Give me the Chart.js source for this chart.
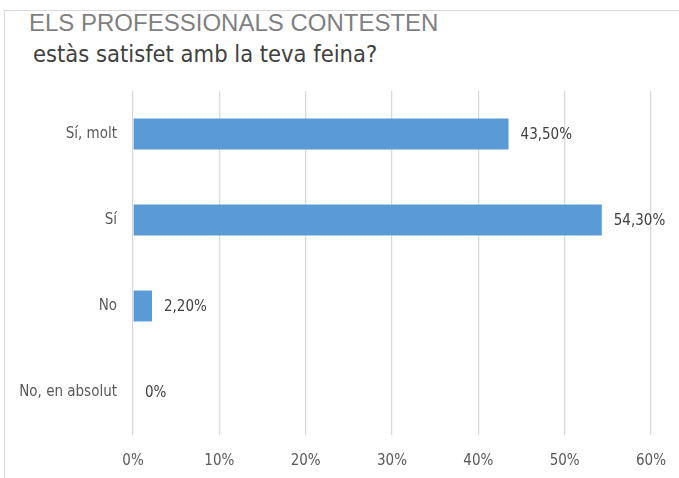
<!DOCTYPE html>
<html lang="ca">
<head>
  <meta charset="UTF-8">
  <title>Els professionals contesten</title>
  <style>
    body {
      margin: 0;
      background-color: #ffffff;
      font-family: "DejaVu Sans Condensed", sans-serif;
    }

    .frame {
      position: absolute;
      left: 4px;
      top: 10px;
      width: 675px;
      height: 468px;
      border-top: 1px solid #d9d9d9;
      border-left: 1px solid #d9d9d9;
    }

    .titol {
      position: absolute;
      left: 29px;
      top: 9px;
      font-family: "Liberation Sans", Arial, sans-serif;
      font-size: 24px;
      color: #7f7f7f;
      white-space: nowrap;
    }

    .pregunta {
      position: absolute;
      left: 33px;
      top: 40px;
      font-size: 23.5px;
      color: #404040;
      white-space: nowrap;
    }

    .chartBox {
      position: absolute;
      left: 0;
      top: 0;
      width: 679px;
      height: 478px;
    }
  </style>
</head>
<body>
<script src="https://cdn.jsdelivr.net/npm/chart.js"></script>

<div class="frame"></div>
<div class="titol">ELS PROFESSIONALS CONTESTEN</div>
<div class="pregunta">estàs satisfet amb la teva feina?</div>

<div class="chartBox">
  <canvas id="barChart"></canvas>
</div>

<script>
  // respostes i percentatges
  const respostes = ['Sí, molt', 'Sí', 'No', 'No, en absolut'];
  const percentatges = [43.5, 54.3, 2.2, 0];
  const ticksX = [0, 10, 20, 30, 40, 50, 60];

  const fontText = '"DejaVu Sans Condensed", sans-serif';

  function formatPct(v) {
    if (v === 0) return '0%';
    return v.toFixed(2).replace('.', ',') + '%';
  }

  // etiquetes al final de cada barra
  const etiquetes = {
    id: 'etiquetes',
    afterDatasetsDraw(chart) {
      const ctx = chart.ctx;
      const meta = chart.getDatasetMeta(0);
      ctx.save();
      ctx.font = '15px ' + fontText;
      ctx.fillStyle = '#404040';
      ctx.textAlign = 'left';
      ctx.textBaseline = 'middle';
      meta.data.forEach(function (bar, i) {
        ctx.fillText(formatPct(percentatges[i]), bar.x + 12, bar.y + 1);
      });
      ctx.restore();
    }
  };

  const config = {
    type: 'bar',
    data: {
      labels: respostes,
      datasets: [{
        data: percentatges,
        backgroundColor: '#5b9bd5',
        borderWidth: 0,
        categoryPercentage: 1,
        barPercentage: 0.36
      }]
    },
    options: {
      indexAxis: 'y',
      responsive: true,
      maintainAspectRatio: false,
      animation: false,
      layout: {
        padding: { left: 0, top: 91, right: 28, bottom: 0 }
      },
      plugins: {
        legend: { display: false },
        tooltip: { enabled: false }
      },
      scales: {
        x: {
          min: 0,
          max: 60,
          afterFit: function (scale) {
            scale.height = 43;
            scale.paddingLeft = 0;
            scale.paddingRight = 0;
          },
          afterBuildTicks: function (scale) {
            scale.ticks = ticksX.map(function (v) { return { value: v }; });
          },
          grid: { color: '#d9d9d9', lineWidth: 1.3, drawTicks: false },
          border: { display: false },
          ticks: {
            padding: 17,
            color: '#595959',
            font: { family: fontText, size: 15 },
            callback: function (v) { return v + '%'; }
          }
        },
        y: {
          afterFit: function (scale) { scale.width = 133; },
          grid: { display: false, drawTicks: false },
          border: { display: false },
          ticks: {
            padding: 16,
            color: '#595959',
            font: { family: fontText, size: 15 }
          }
        }
      }
    },
    plugins: [etiquetes]
  };

  let barChart = new Chart(document.getElementById('barChart'), config);
</script>
</body>
</html>
